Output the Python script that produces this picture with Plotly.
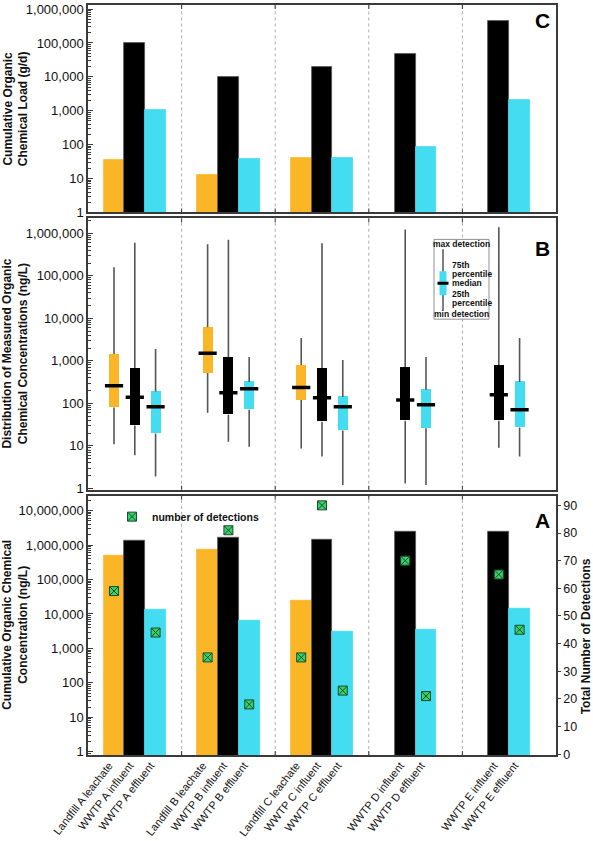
import plotly.graph_objects as go

# ---------------- data ----------------
categories = ["Landfill A leachate", "WWTP A influent", "WWTP A effluent",
              "Landfill B leachate", "WWTP B influent", "WWTP B effluent",
              "Landfill C leachate", "WWTP C influent", "WWTP C effluent",
              "WWTP D influent", "WWTP D effluent",
              "WWTP E influent", "WWTP E effluent"]
sample_type = ["leachate", "influent", "effluent",
               "leachate", "influent", "effluent",
               "leachate", "influent", "effluent",
               "influent", "effluent",
               "influent", "effluent"]
site_index = [0, 0, 0, 1, 1, 1, 2, 2, 2, 3, 3, 4, 4]

# Panel C: cumulative organic chemical load (g/d)
load_gd = [35, 100000, 1050, 13, 9800, 37, 40, 19000, 40, 48000, 88, 430000, 2100]

# Panel B: distribution of measured concentrations (ng/L)
conc_min = [11, 6, 1.9, 60, 12.6, 9.6, 8.7, 5.6, 1.2, 1.3, 1.2, 9, 5.6]
conc_q1 = [80, 30, 19.5, 520, 54, 71, 120, 37, 23, 39, 26, 39, 27]
conc_median = [260, 140, 83, 1520, 178, 220, 235, 135, 83, 120, 93, 160, 71]
conc_q3 = [1450, 680, 190, 6200, 1230, 320, 800, 680, 142, 720, 210, 800, 320]
conc_max = [160000, 600000, 1900, 550000, 710000, 1230, 3450, 580000, 1050,
            1230000, 1230, 1380000, 3450]

# Panel A: cumulative concentration (ng/L) and number of detections
conc_total = [480000, 1300000, 13000, 720000, 1600000, 6300, 23700, 1400000, 3100,
              2400000, 3500, 2500000, 14000]
detections = [59, None, 44, 35, 81, 18, 35, 90, 23, 70, 21, 65, 45]

type_colors = {"leachate": "#FBB627", "influent": "#000000", "effluent": "#43DCF0"}
type_order = ["leachate", "influent", "effluent"]

# ---------------- positions ----------------
SLOT = 0.222
positions = []
for i, s in enumerate(site_index):
    members = [j for j, t in enumerate(site_index) if t == s]
    n = len(members)
    k = members.index(i)
    positions.append(s + (k - (n - 1) / 2) * SLOT)

# geometry helpers (pixel -> paper)
L, R, T, B = 88, 37, 3, 86
W, H = 593, 841
PW, PH = W - L - R, H - T - B


def px(xp):
    return (xp - L) / PW


def py(yp):
    return (H - B - yp) / PH


fig = go.Figure()

FONT = "Liberation Sans, Arial, sans-serif"

# ---- Panel C bars ----
for t in type_order:
    idx = [i for i, st in enumerate(sample_type) if st == t]
    fig.add_trace(go.Bar(
        x=[positions[i] for i in idx], y=[load_gd[i] for i in idx],
        width=SLOT, marker=dict(color=type_colors[t],
                                line=dict(color="#555" if t == "influent" else type_colors[t], width=0.8)),
        xaxis="x", yaxis="y", showlegend=False, name=t))

# ---- Panel B boxes ----
BOXW = 0.108
for t in type_order:
    idx = [i for i, st in enumerate(sample_type) if st == t]
    fig.add_trace(go.Bar(
        x=[positions[i] for i in idx],
        base=[conc_q1[i] for i in idx],
        y=[conc_q3[i] - conc_q1[i] for i in idx],
        width=BOXW, marker=dict(color=type_colors[t], line=dict(width=0)),
        xaxis="x2", yaxis="y2", showlegend=False, name=t))

wx, wy = [], []
for i in range(len(categories)):
    wx += [positions[i], positions[i], None, positions[i], positions[i], None]
    wy += [conc_min[i], conc_q1[i], None, conc_q3[i], conc_max[i], None]
fig.add_trace(go.Scatter(x=wx, y=wy, mode="lines", line=dict(color="#555555", width=1.6),
                         xaxis="x2", yaxis="y2", showlegend=False, hoverinfo="skip"))
fig.add_trace(go.Scatter(x=positions, y=conc_median, mode="markers",
                         marker=dict(symbol="line-ew", size=13, line=dict(color="black", width=3.5)),
                         xaxis="x2", yaxis="y2", showlegend=False))

# ---- Panel A bars ----
for t in type_order:
    idx = [i for i, st in enumerate(sample_type) if st == t]
    fig.add_trace(go.Bar(
        x=[positions[i] for i in idx], y=[conc_total[i] for i in idx],
        width=SLOT, marker=dict(color=type_colors[t],
                                line=dict(color="#555" if t == "influent" else type_colors[t], width=0.8)),
        xaxis="x3", yaxis="y3", showlegend=False, name=t))

didx = [i for i, d in enumerate(detections) if d is not None]
fig.add_trace(go.Scatter(
    x=[positions[i] for i in didx], y=[detections[i] for i in didx], mode="markers",
    marker=dict(symbol="square-x", size=9, color="#36D36B", line=dict(color="#1d4a30", width=1)),
    xaxis="x3", yaxis="y4", name="number of detections", showlegend=True))

# ---------------- axes ----------------
AX = "#3a3a3a"
TF = dict(size=13, color="#111", family=FONT)
xcommon = dict(range=[-0.5, 4.5], showline=True, linecolor=AX, linewidth=1.5, mirror=True,
               showgrid=False, zeroline=False, ticks="")
logcommon = dict(type="log", showline=True, linecolor=AX, linewidth=1.5, mirror=True,
                 showgrid=False, zeroline=False, ticks="inside", ticklen=5, tickcolor=AX,
                 dtick=1, tickformat=",.0f", tickfont=TF,
                 minor=dict(ticks="inside", ticklen=3, tickcolor=AX, showgrid=False))

d_c = [py(211), 1.0]
d_b = [py(489), py(217)]
d_a = [0.0, py(495)]

fig.update_layout(
    width=W, height=H, autosize=False,
    margin=dict(l=L, r=R, t=T, b=B),
    plot_bgcolor="white", paper_bgcolor="white",
    barmode="overlay", bargap=0,
    font=dict(family=FONT, color="#111"),
    xaxis=dict(domain=[0, 1], anchor="y", showticklabels=False, **xcommon),
    xaxis2=dict(domain=[0, 1], anchor="y2", matches="x", showticklabels=False, **xcommon),
    xaxis3=dict(domain=[0, 1], anchor="y3", matches="x", tickvals=positions, ticktext=categories,
                tickangle=-52, ticklabelstandoff=-2, ticklabelshift=-5,
                tickfont=dict(size=11, color="#111", family=FONT), **xcommon),
    yaxis=dict(domain=d_c, anchor="x", range=[0, 6.12], **logcommon),
    yaxis2=dict(domain=d_b, anchor="x2", range=[-0.03, 6.35], **logcommon),
    yaxis3=dict(domain=d_a, anchor="x3", range=[-0.09, 7.43], **logcommon),
    yaxis4=dict(overlaying="y3", side="right", anchor="x3", range=[-0.3, 93.5], dtick=10,
                showline=True, linecolor=AX, linewidth=1.5, ticks="outside", ticklen=3,
                tickcolor=AX, showgrid=False, zeroline=False,
                tickfont=dict(size=12.5, color="#111", family=FONT)),
    legend=dict(x=px(112), y=py(516), xanchor="left", yanchor="middle",
                bgcolor="rgba(0,0,0,0)", borderwidth=0, itemwidth=30,
                font=dict(size=10.5, family=FONT, color="#111", weight="bold")),
)

# ---------------- separators ----------------
shapes = []
for yref in ["y domain", "y2 domain", "y3 domain"]:
    for xb in [0.5, 1.5, 2.5, 3.5]:
        shapes.append(dict(type="line", xref="x", yref=yref, x0=xb, x1=xb, y0=0, y1=1,
                           line=dict(color="#a3aebb", width=1, dash="dot"), layer="below"))
for yr, (y0, y1) in zip(["y domain", "y2 domain", "y3 domain"], [(211, 3), (489, 217), (755, 495)]):
    hgt = y0 - y1
    for xb in [0.5, 1.5, 2.5, 3.5]:
        shapes.append(dict(type="line", xref="x", yref=yr, x0=xb, x1=xb, y0=1, y1=1 - 4 / hgt,
                           line=dict(color=AX, width=1)))
        shapes.append(dict(type="line", xref="x", yref=yr, x0=xb, x1=xb, y0=0, y1=4 / hgt,
                           line=dict(color=AX, width=1)))

# box-plot key in panel B
shapes.append(dict(type="rect", xref="paper", yref="paper", x0=px(434), x1=px(489), y0=py(318), y1=py(238),
                   line=dict(color="#8f8f8f", width=1), fillcolor="white"))
shapes.append(dict(type="line", xref="paper", yref="paper", x0=px(443), x1=px(443), y0=py(309), y1=py(248),
                   line=dict(color="#555555", width=1.5)))
shapes.append(dict(type="rect", xref="paper", yref="paper", x0=px(439.5), x1=px(446.5), y0=py(294), y1=py(270),
                   line=dict(width=0), fillcolor="#43DCF0"))
shapes.append(dict(type="line", xref="paper", yref="paper", x0=px(437.5), x1=px(448.5), y0=py(282), y1=py(282),
                   line=dict(color="black", width=3)))
fig.update_layout(shapes=shapes)

# ---------------- annotations ----------------
ann = []
for txt, yc in [("C", 19), ("B", 247), ("A", 520)]:
    ann.append(dict(text=txt, x=px(542), y=py(yc), xref="paper", yref="paper", showarrow=False,
                    font=dict(size=21, family=FONT, color="black", weight="bold"),
                    xanchor="center", yanchor="middle"))

titles = [("Cumulative Organic<br>Chemical Load (g/d)", (3 + 211) / 2),
          ("Distribution of Measured Organic<br>Chemical Concentrations (ng/L)", (217 + 489) / 2),
          ("Cumulative Organic Chemical<br>Concentration (ng/L)", (495 + 755) / 2)]
for txt, yc in titles:
    ann.append(dict(text=txt, x=px(15.5), y=py(yc), xref="paper", yref="paper", showarrow=False,
                    textangle=-90, xanchor="center", yanchor="middle",
                    font=dict(size=12, family=FONT, color="#111", weight="bold")))
ann.append(dict(text="Total Number of Detections", x=px(586), y=py(636), xref="paper", yref="paper",
                showarrow=False, textangle=-90, xanchor="center", yanchor="middle",
                font=dict(size=12, family=FONT, color="#111", weight="bold")))

key_font = dict(size=8.5, family=FONT, color="#111", weight="bold")
ann.append(dict(text="max detection", x=px(461.5), y=py(243), xref="paper", yref="paper", showarrow=False,
                xanchor="center", yanchor="middle", font=key_font))
ann.append(dict(text="min detection", x=px(461.5), y=py(313), xref="paper", yref="paper", showarrow=False,
                xanchor="center", yanchor="middle", font=key_font))
for txt, yc in [("75th", 264), ("percentile", 273), ("median", 282), ("25th", 293), ("percentile", 302)]:
    ann.append(dict(text=txt, x=px(450), y=py(yc), xref="paper", yref="paper", showarrow=False,
                    xanchor="left", yanchor="middle", font=key_font))
fig.update_layout(annotations=ann)

# remove the default page margin so the figure fills the window exactly
fig.write_html("out.html", config={"displayModeBar": False},
               post_script="document.body.style.margin='0px';")
